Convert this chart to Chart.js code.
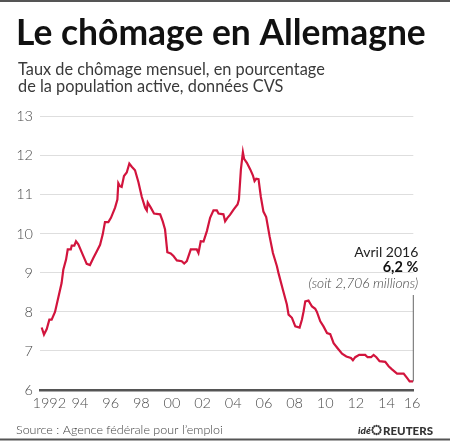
<!doctype html>
<html>
<head>
<meta charset="utf-8">
<title>Le chômage en Allemagne</title>
<script src="https://cdn.jsdelivr.net/npm/chart.js@4.4.0/dist/chart.umd.min.js"></script>
<style>
	html, body { margin: 0; padding: 0; background: #fff; }
	canvas { display: block; }
</style>
</head>
<body>
<canvas id="canvas" width="450" height="442"></canvas>
<script>
// monthly jobless rate (decimal year, %)
var years = [
	1992.00, 1992.15, 1992.33, 1992.50, 1992.65, 1992.87, 1993.30, 1993.41, 1993.59, 1993.70,
	1993.90, 1993.96, 1994.13, 1994.24, 1994.39, 1994.72, 1994.94, 1995.15, 1995.37, 1995.59,
	1995.81, 1995.98, 1996.13, 1996.35, 1996.52, 1996.79, 1996.94, 1997.00, 1997.11, 1997.22,
	1997.37, 1997.55, 1997.72, 1997.88, 1998.09, 1998.31, 1998.53, 1998.75, 1998.86, 1998.92,
	1999.12, 1999.33, 1999.73, 1999.90, 2000.05, 2000.20, 2000.42, 2000.60, 2000.82, 2001.14,
	2001.30, 2001.47, 2001.73, 2002.12, 2002.23, 2002.38, 2002.56, 2002.78, 2002.99, 2003.21,
	2003.43, 2003.54, 2003.86, 2003.97, 2004.12, 2004.30, 2004.52, 2004.78, 2004.87, 2005.00,
	2005.13, 2005.21, 2005.39, 2005.61, 2005.78, 2005.89, 2006.00, 2006.15, 2006.30, 2006.47,
	2006.65, 2006.87, 2007.09, 2007.35, 2007.45, 2007.74, 2008.00, 2008.11, 2008.33, 2008.55,
	2008.83, 2008.98, 2009.09, 2009.20, 2009.41, 2009.64, 2009.85, 2009.96, 2010.18, 2010.39,
	2010.62, 2010.83, 2011.05, 2011.31, 2011.60, 2011.88, 2012.18, 2012.31, 2012.46, 2012.72,
	2013.11, 2013.27, 2013.49, 2013.66, 2013.84, 2014.05, 2014.42, 2014.64, 2014.86, 2015.19,
	2015.62, 2015.84, 2016.01, 2016.25
];
var rates = [
	7.60, 7.42, 7.56, 7.80, 7.80, 8.00, 8.74, 9.08, 9.34, 9.60,
	9.60, 9.70, 9.70, 9.81, 9.73, 9.43, 9.23, 9.20, 9.38, 9.55,
	9.72, 9.98, 10.30, 10.30, 10.41, 10.67, 10.88, 11.30, 11.22, 11.20,
	11.48, 11.57, 11.80, 11.72, 11.63, 11.33, 10.95, 10.67, 10.60, 10.80,
	10.67, 10.52, 10.50, 10.32, 10.11, 9.53, 9.50, 9.43, 9.32, 9.30,
	9.24, 9.30, 9.60, 9.60, 9.51, 9.81, 9.80, 10.07, 10.41, 10.60,
	10.60, 10.52, 10.50, 10.32, 10.41, 10.49, 10.62, 10.75, 10.88, 11.65,
	12.09, 11.92, 11.82, 11.65, 11.50, 11.35, 11.41, 11.40, 10.95, 10.57,
	10.43, 9.94, 9.51, 9.17, 9.00, 8.57, 8.19, 7.93, 7.85, 7.63,
	7.60, 7.80, 8.01, 8.27, 8.29, 8.14, 8.08, 8.00, 7.76, 7.63,
	7.46, 7.43, 7.20, 7.07, 6.93, 6.86, 6.82, 6.76, 6.84, 6.90,
	6.90, 6.84, 6.84, 6.90, 6.84, 6.74, 6.72, 6.61, 6.53, 6.42,
	6.42, 6.31, 6.22, 6.22
];
var tickYears = [1992, 1994, 1996, 1998, 2000, 2002, 2004, 2006, 2008, 2010, 2012, 2014, 2016];
var tickLabels = ['1992', '94', '96', '98', '00', '02', '04', '06', '08', '10', '12', '14', '16'];
var yTicks = [6, 7, 8, 9, 10, 11, 12, 13];

var title = 'Le chômage en Allemagne';
var subtitle = ['Taux de chômage mensuel, en pourcentage', 'de la population active, données CVS'];
var source = 'Source : Agence fédérale pour l\u2019emploi';
var noteLines = ['Avril 2016', '6,2 %', '(soit 2,706 millions)'];

var FONT = 'Lato, "Open Sans", sans-serif';

// pick a font size so that text fills a given width
function fitFont(ctx, text, style, weight, width, maxSize) {
	var size = maxSize;
	ctx.font = style + ' ' + weight + ' ' + size + 'px ' + FONT;
	var w = ctx.measureText(text).width;
	size = Math.min(maxSize, size * width / w);
	return style + ' ' + weight + ' ' + size.toFixed(2) + 'px ' + FONT;
}

var decor = {
	id: 'decor',
	afterDraw: function(chart) {
		var ctx = chart.ctx;
		var xs = chart.scales.x, ys = chart.scales.y;
		ctx.save();

		// rules top and bottom
		ctx.fillStyle = '#555';
		ctx.fillRect(0, 0, 450, 2);
		ctx.fillRect(0, 438.5, 450, 2);

		ctx.textAlign = 'left';
		ctx.textBaseline = 'alphabetic';
		ctx.fillStyle = '#111';
		ctx.font = fitFont(ctx, title, 'normal', 'bold', 410, 36);
		ctx.fillText(title, 16, 45);

		ctx.fillStyle = '#3a3a3a';
		ctx.font = fitFont(ctx, subtitle[0], 'normal', '400', 307, 18);
		ctx.fillText(subtitle[0], 18, 75);
		ctx.fillText(subtitle[1], 18, 92);

		ctx.fillStyle = '#444';
		ctx.font = fitFont(ctx, source, 'normal', '300', 207, 15);
		ctx.fillText(source, 16, 434);

		// idé / Reuters mark
		ctx.fillStyle = '#333';
		ctx.font = 'italic 900 10px ' + FONT;
		ctx.fillText('idé', 358, 434);
		var cx = 376.5, cy = 430;
		for (var i = 0; i < 12; i++) {
			var a = i * Math.PI / 6;
			ctx.beginPath();
			ctx.arc(cx + Math.cos(a) * 4.2, cy + Math.sin(a) * 4.2, 1.1, 0, Math.PI * 2);
			ctx.fill();
		}
		ctx.font = 'normal 900 11.5px ' + FONT;
		ctx.fillText('REUTERS', 383, 434.5);

		// note on the last value
		var n = years.length - 1;
		var px = xs.getPixelForValue(years[n]);
		var pyEnd = ys.getPixelForValue(rates[n]);
		var pyTop = 295;
		ctx.strokeStyle = '#666';
		ctx.lineWidth = 1;
		ctx.beginPath();
		ctx.moveTo(px, pyTop);
		ctx.lineTo(px, pyEnd);
		ctx.stroke();

		ctx.textAlign = 'right';
		ctx.fillStyle = '#222';
		ctx.font = 'normal 400 14px ' + FONT;
		ctx.fillText(noteLines[0], px + 5, pyTop - 38);
		ctx.font = 'normal bold 14.5px ' + FONT;
		ctx.fillStyle = '#111';
		ctx.fillText(noteLines[1], px + 5, pyTop - 23);
		ctx.fillStyle = '#444';
		ctx.font = fitFont(ctx, noteLines[2], 'italic', '300', 110, 15);
		ctx.fillText(noteLines[2], px + 5, pyTop - 7);

		ctx.restore();
	}
};

var config = {
	type: 'line',
	data: {
		datasets: [{
			data: years.map(function(y, i) { return { x: y, y: rates[i] }; }),
			borderColor: '#d2143d',
			borderWidth: 2.2,
			pointRadius: 0,
			tension: 0,
			fill: false
		}]
	},
	options: {
		responsive: false,
		animation: false,
		layout: { padding: { left: 0, right: 36.7, top: 116.7, bottom: 30 } },
		plugins: { legend: { display: false }, tooltip: { enabled: false } },
		scales: {
			x: {
				type: 'linear',
				min: 1991.89,
				max: years[years.length - 1],
				afterFit: function(scale) { scale.height = 22; },
				afterBuildTicks: function(scale) {
					scale.ticks = tickYears.map(function(y) {
						return { value: Math.min(y + 0.5, scale.max - 0.08) };
					});
				},
				grid: { display: false, drawTicks: false },
				border: { display: true, color: '#555', width: 2.5 },
				ticks: {
					autoSkip: false,
					maxRotation: 0,
					padding: 5,
					color: '#4a4a4a',
					font: { family: FONT, size: 14.5, weight: '300' },
					callback: function(value, index) { return tickLabels[index]; }
				}
			},
			y: {
				min: yTicks[0],
				max: yTicks[yTicks.length - 1],
				afterFit: function(scale) { scale.width = 40; },
				afterBuildTicks: function(scale) {
					scale.ticks = yTicks.map(function(v) { return { value: v }; });
				},
				grid: {
					drawTicks: false,
					lineWidth: 1,
					color: function(c) { return c.tick && c.tick.value === yTicks[0] ? 'rgba(0,0,0,0)' : '#dedede'; }
				},
				border: { display: false },
				ticks: {
					padding: 7,
					color: '#4a4a4a',
					font: { family: FONT, size: 14.5, weight: '300' }
				}
			}
		}
	},
	plugins: [decor]
};

window.onload = function() {
	var ctx = document.getElementById('canvas').getContext('2d');
	window.myLine = new Chart(ctx, config);
};
</script>
</body>
</html>
